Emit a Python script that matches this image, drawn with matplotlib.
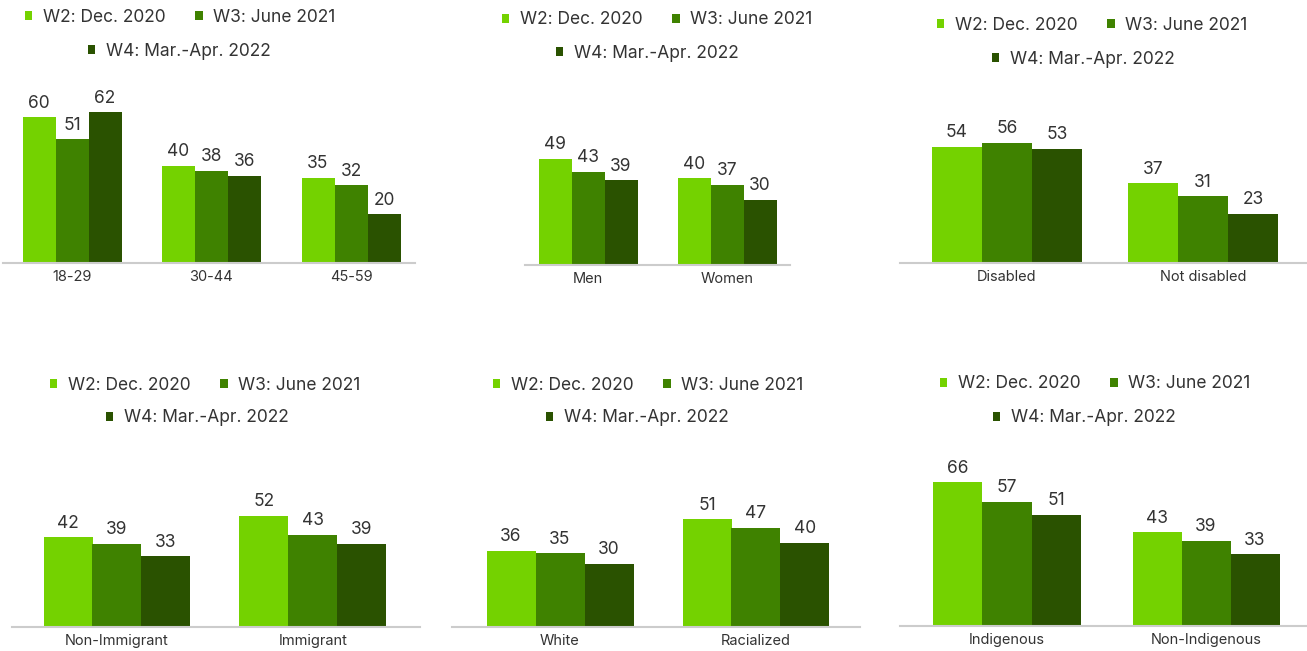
import numpy as np
import matplotlib.pyplot as plt
from matplotlib.patches import Patch

plt.rcParams['font.family'] = ['Inter', 'DejaVu Sans']

W, H = 1307, 651

waves = ["W2: Dec. 2020", "W3: June 2021", "W4: Mar.-Apr. 2022"]
colors = ["#74d200", "#3f8200", "#2a5200"]

age_cats = ["18-29", "30-44", "45-59"]
age_vals = [[60, 40, 35], [51, 38, 32], [62, 36, 20]]

gender_cats = ["Men", "Women"]
gender_vals = [[49, 40], [43, 37], [39, 30]]

disab_cats = ["Disabled", "Not disabled"]
disab_vals = [[54, 37], [56, 31], [53, 23]]

immig_cats = ["Non-Immigrant", "Immigrant"]
immig_vals = [[42, 52], [39, 43], [33, 39]]

race_cats = ["White", "Racialized"]
race_vals = [[36, 51], [35, 47], [30, 40]]

indig_cats = ["Indigenous", "Non-Indigenous"]
indig_vals = [[66, 43], [57, 39], [51, 33]]

# layout per panel (pixels): axis line x-range, baseline y, first group centre,
# group spacing, bar width, px per unit, legend row centres
panels = [
    (age_cats, age_vals, 3, 415, 263, 72, 139.5, 33, 2.43, (180, 17), (179, 51)),
    (gender_cats, gender_vals, 525, 790, 265, 588, 139, 33, 2.17, (657, 20), (647, 53)),
    (disab_cats, disab_vals, 900, 1307, 263, 1007, 196, 50, 2.15, (1092, 25), (1083, 59)),
    (immig_cats, immig_vals, 12, 420, 627, 117, 196, 49, 2.14, (205, 385), (197, 418)),
    (race_cats, race_vals, 452, 860, 627, 560, 196, 49, 2.11, (648, 385), (637, 418)),
    (indig_cats, indig_vals, 900, 1307, 626, 1007, 199, 49, 2.18, (1095, 384), (1084, 418)),
]

fig = plt.figure(figsize=(W / 100, H / 100), dpi=100)

handles = [Patch(facecolor=c, edgecolor='none') for c in colors]

for cats, vals, xl, xr, base, c0, sp, bw, scale, leg1, leg2 in panels:
    ax_h = 200
    ax = fig.add_axes([xl / W, 1 - base / H, (xr - xl) / W, ax_h / H])
    ax.set_xlim((xl - c0) / sp, (xr - c0) / sp)
    ax.set_ylim(0, ax_h / scale)
    w = bw / sp
    x = np.arange(len(cats))
    for i in range(3):
        bars = ax.bar(x + (i - 1) * w, vals[i], w, color=colors[i])
        ax.bar_label(bars, padding=4, fontsize=12.5, color="#333333")
    ax.set_xticks(x)
    ax.set_xticklabels(cats, fontsize=10.5, color="#333333")
    ax.tick_params(axis='x', length=0, pad=5)
    ax.set_yticks([])
    for s in ['top', 'right', 'left']:
        ax.spines[s].set_visible(False)
    ax.spines['bottom'].set_color("#cccccc")
    ax.spines['bottom'].set_linewidth(1.5)
    ax.patch.set_alpha(0)

    fig.legend(handles[:2], waves[:2], loc='center', ncol=2,
               bbox_to_anchor=(leg1[0] / W, 1 - leg1[1] / H),
               frameon=False, fontsize=12.5, handlelength=0.45, handleheight=0.45,
               handletextpad=0.6, columnspacing=1.7, labelcolor="#333333")
    fig.legend(handles[2:], waves[2:], loc='center', ncol=1,
               bbox_to_anchor=(leg2[0] / W, 1 - leg2[1] / H),
               frameon=False, fontsize=12.5, handlelength=0.45, handleheight=0.45,
               handletextpad=0.6, labelcolor="#333333")

plt.savefig("out.png", dpi=100)
